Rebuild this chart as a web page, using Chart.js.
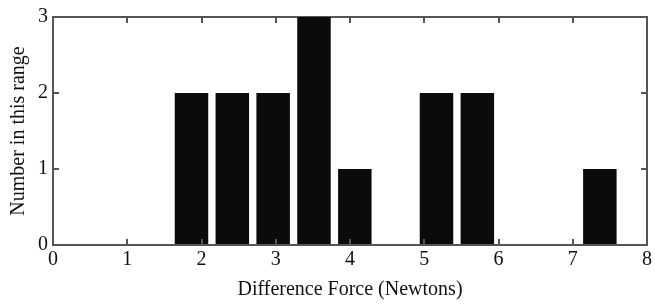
<!DOCTYPE html>
<html>
<head>
<meta charset="utf-8">
<script src="https://cdn.jsdelivr.net/npm/chart.js@4.4.0/dist/chart.umd.min.js"></script>
<style>
  html, body { margin: 0; padding: 0; background: #fff; }
</style>
</head>
<body>
<canvas id="myChart" width="655" height="304"></canvas>
<script>
// bin centres (Newtons) and how many fell in each bin
const binCenters = [1.865, 2.415, 2.965, 3.515, 4.065, 4.615, 5.165, 5.715, 6.265, 6.815, 7.365];
const counts     = [2, 2, 2, 3, 1, 0, 2, 2, 0, 0, 1];
const xTicks = [0, 1, 2, 3, 4, 5, 6, 7, 8];
const yTicks = [0, 1, 2, 3];

const serif = "'Liberation Serif', 'Times New Roman', serif";
const axisColor = '#555';
const tickFont = { family: serif, size: 20 };

// only the axis line, no grid inside the plot and no outward ticks
const edgeGrid = { display: true, drawOnChartArea: false, drawTicks: false, color: axisColor, lineWidth: 2 };
const frameBorder = { display: true, color: axisColor, width: 2 };

// short ticks pointing into the plot on all four sides
const inwardTicks = {
    id: 'inwardTicks',
    afterDatasetsDraw(chart) {
        const c = chart.ctx;
        const a = chart.chartArea;
        const xs = chart.scales.x, ys = chart.scales.y;
        c.save();
        c.strokeStyle = axisColor;
        c.lineWidth = 2;
        c.beginPath();
        xTicks.slice(1, -1).forEach(v => {
            const px = Math.round(xs.getPixelForValue(v));
            c.moveTo(px, a.bottom); c.lineTo(px, a.bottom - 6);
            c.moveTo(px, a.top); c.lineTo(px, a.top + 6);
        });
        yTicks.slice(1, -1).forEach(v => {
            const py = Math.round(ys.getPixelForValue(v));
            c.moveTo(a.left, py); c.lineTo(a.left + 6, py);
            c.moveTo(a.right, py); c.lineTo(a.right - 6, py);
        });
        c.stroke();
        c.restore();
    }
};

const ctx = document.getElementById('myChart');

let chart = new Chart(ctx, {
    type: 'bar',
    data: {
        datasets: [{
            data: binCenters.map((x, i) => ({ x: x, y: counts[i] })),
            backgroundColor: '#0b0b0b',
            borderWidth: 0,
            categoryPercentage: 1,
            barPercentage: 0.82
        }]
    },
    options: {
        responsive: false,
        animation: false,
        layout: { padding: { top: 4, right: 2, left: 7, bottom: 0 } },
        plugins: { legend: { display: false }, tooltip: { enabled: false } },
        scales: {
            x: {
                type: 'linear',
                offset: false,
                min: 0,
                max: 8,
                afterBuildTicks: s => { s.ticks = xTicks.map(v => ({ value: v })); },
                grid: edgeGrid,
                border: frameBorder,
                ticks: { color: '#111', font: tickFont, padding: 3, maxRotation: 0 },
                title: {
                    display: true,
                    text: 'Difference Force (Newtons)',
                    color: '#111',
                    font: tickFont,
                    padding: { top: 3, bottom: 2 }
                }
            },
            x2: {
                type: 'linear',
                position: 'top',
                offset: false,
                min: 0,
                max: 8,
                grid: edgeGrid,
                border: frameBorder,
                ticks: { display: false }
            },
            y: {
                min: 0,
                max: 3,
                afterBuildTicks: s => { s.ticks = yTicks.map(v => ({ value: v })); },
                grid: edgeGrid,
                border: frameBorder,
                ticks: { color: '#111', font: tickFont, padding: 5 },
                title: {
                    display: true,
                    text: 'Number in this range',
                    color: '#111',
                    font: tickFont,
                    padding: { top: 0, bottom: 2 }
                }
            },
            y2: {
                position: 'right',
                min: 0,
                max: 3,
                grid: edgeGrid,
                border: frameBorder,
                ticks: { display: false }
            }
        }
    },
    plugins: [inwardTicks]
});
</script>
</body>
</html>
